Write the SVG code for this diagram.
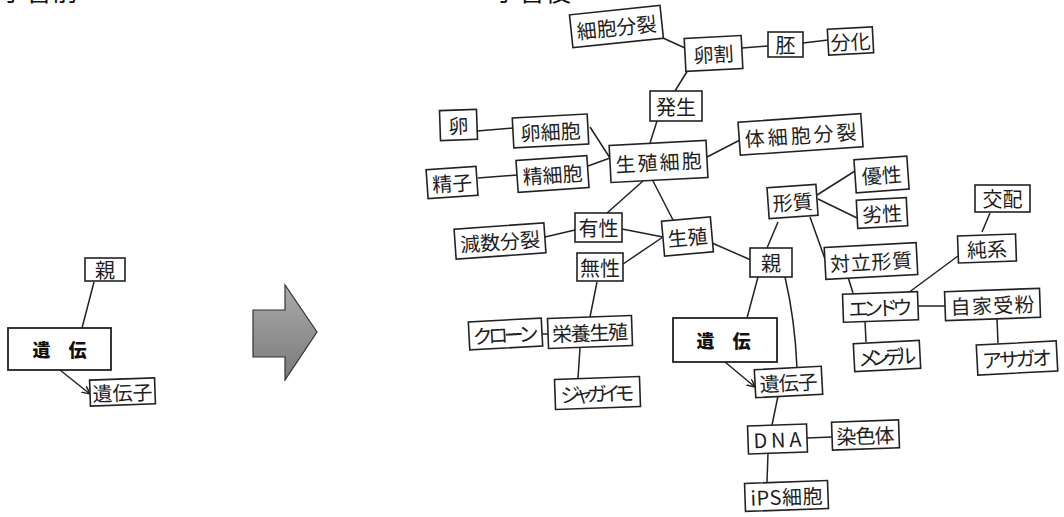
<svg xmlns="http://www.w3.org/2000/svg" width="1064" height="517" viewBox="0 0 1064 517">
<style>
.box{fill:#fff;stroke:#222;stroke-width:1.6}
.big{fill:#fff;stroke:#222;stroke-width:1.8}
.lbl{font-family:"Noto Sans CJK JP","Noto Sans",sans-serif;font-size:20px;fill:#1e1e1e;text-anchor:middle;dominant-baseline:central}
.bold{font-family:"Noto Sans CJK JP","Noto Sans",sans-serif;font-size:18px;font-weight:900;fill:#111;text-anchor:middle;dominant-baseline:central}
.ttl{font-family:"Noto Sans CJK JP",sans-serif;font-size:26px;fill:#111}
.ln{fill:none;stroke:#222;stroke-width:1.5}
</style>
<defs>
<marker id="ah" markerWidth="10" markerHeight="10" refX="8" refY="4" orient="auto" markerUnits="userSpaceOnUse">
<path d="M0,0 L8,4 L0,8" fill="none" stroke="#222" stroke-width="1.5"/>
</marker>
<linearGradient id="gr" x1="0" y1="0" x2="0" y2="1">
<stop offset="0" stop-color="#aaaaaa"/>
<stop offset="1" stop-color="#7a7a7a"/>
</linearGradient>
</defs>

<text class="ttl" x="0" y="0.5">学習前</text>
<text class="ttl" x="493" y="0.5">学習後</text>

<polygon id="bigarrow" points="253,310 285,310 285,285 317,332 285,380 285,357 253,357" fill="url(#gr)" stroke="#333" stroke-width="1.2"/>

<g id="connectors">
<line class="ln" x1="94" y1="282" x2="82" y2="328"/>
<line class="ln" x1="60" y1="370" x2="90" y2="394" marker-end="url(#ah)"/>

<line class="ln" x1="663" y1="38" x2="685" y2="48"/>
<line class="ln" x1="742" y1="48" x2="768" y2="46"/>
<line class="ln" x1="803" y1="43" x2="828" y2="40"/>
<line class="ln" x1="688" y1="70" x2="675" y2="91"/>
<line class="ln" x1="477" y1="131" x2="513" y2="128"/>
<line class="ln" x1="478" y1="178" x2="517" y2="175"/>
<line class="ln" x1="590" y1="127" x2="610" y2="158"/>
<line class="ln" x1="588" y1="166" x2="610" y2="158"/>
<line class="ln" x1="650" y1="143" x2="657" y2="121"/>
<line class="ln" x1="707" y1="157" x2="740" y2="140"/>
<line class="ln" x1="643" y1="181" x2="607" y2="213"/>
<line class="ln" x1="653" y1="181" x2="673" y2="220"/>
<line class="ln" x1="545" y1="237" x2="575" y2="230"/>
<line class="ln" x1="622" y1="229" x2="663" y2="237"/>
<line class="ln" x1="623" y1="264" x2="663" y2="237"/>
<line class="ln" x1="597" y1="282" x2="590" y2="317"/>
<line class="ln" x1="542" y1="334" x2="548" y2="334"/>
<line class="ln" x1="580" y1="348" x2="578" y2="378"/>
<line class="ln" x1="712" y1="243" x2="751" y2="260"/>
<line class="ln" x1="778" y1="222" x2="767" y2="248"/>
<line class="ln" x1="817" y1="195" x2="855" y2="171"/>
<line class="ln" x1="818" y1="199" x2="857" y2="218"/>
<line class="ln" x1="810" y1="217" x2="825" y2="259"/>
<line class="ln" x1="982" y1="232" x2="990" y2="213"/>
<line class="ln" x1="908" y1="293" x2="958" y2="256"/>
<line class="ln" x1="848" y1="277" x2="853" y2="293"/>
<line class="ln" x1="918" y1="306" x2="945" y2="306"/>
<line class="ln" x1="865" y1="321" x2="866" y2="342"/>
<line class="ln" x1="997" y1="319" x2="998" y2="343"/>
<line class="ln" x1="758" y1="277" x2="747" y2="318"/>
<path class="ln" d="M785,277 Q795,320 797,368"/>
<line class="ln" x1="725" y1="362" x2="755" y2="387" marker-end="url(#ah)"/>
<line class="ln" x1="778" y1="396" x2="772" y2="425"/>
<line class="ln" x1="807" y1="438" x2="832" y2="437"/>
<line class="ln" x1="768" y1="453" x2="767" y2="482"/>
</g>

<g id="l-oya"><rect class="box" x="85" y="258" width="40" height="23"/><text class="lbl" x="105" y="269.5" font-size="19">親</text></g>
<g id="l-iden"><rect class="big" x="8" y="328" width="103" height="42"/><text class="bold" x="59.5" y="349">遺　伝</text></g>
<g id="l-idenshi" transform="rotate(-2 122 392)"><rect class="box" x="90" y="379" width="65" height="26"/><text class="lbl" x="122.5" y="392" font-size="19">遺伝子</text></g>

<g id="n-saibobunretsu" transform="rotate(-6 617 27)"><rect class="box" x="571" y="10" width="91" height="33"/><text class="lbl" x="616.5" y="26.5" font-size="19">細胞分裂</text></g>
<g id="n-rankatsu" transform="rotate(-3 713 53)"><rect class="box" x="685" y="37" width="57" height="33"/><text class="lbl" x="713.5" y="53.5">卵割</text></g>
<g id="n-hai"><rect class="box" x="768" y="32" width="35" height="25"/><text class="lbl" x="785.5" y="44.5" font-size="19">胚</text></g>
<g id="n-bunka" transform="rotate(-3 850 41)"><rect class="box" x="828" y="28" width="45" height="26"/><text class="lbl" x="850.5" y="41" font-size="19">分化</text></g>
<g id="n-hassei"><rect class="box" x="650" y="91" width="52" height="30"/><text class="lbl" x="676" y="106">発生</text></g>
<g id="n-ran" transform="rotate(-2 458 125)"><rect class="box" x="440" y="110" width="37" height="30"/><text class="lbl" x="458.5" y="125">卵</text></g>
<g id="n-ransaibo" transform="rotate(-3 550 131)"><rect class="box" x="513" y="116" width="75" height="30"/><text class="lbl" x="550.5" y="131">卵細胞</text></g>
<g id="n-seishi" transform="rotate(-4 452 182)"><rect class="box" x="427" y="168" width="50" height="29"/><text class="lbl" x="452" y="182.5">精子</text></g>
<g id="n-seisaibo" transform="rotate(-4 552 174)"><rect class="box" x="517" y="158" width="71" height="32"/><text class="lbl" x="552.5" y="174">精細胞</text></g>
<g id="n-seishokusaibo" transform="rotate(-3 658 161)"><rect class="box" x="610" y="143" width="97" height="37"/><text class="lbl" x="658.5" y="161.5" font-size="21" textLength="86" lengthAdjust="spacing">生殖細胞</text></g>
<g id="n-taisaibo" transform="rotate(-4 800 134)"><rect class="box" x="739" y="118" width="123" height="33"/><text class="lbl" x="800.5" y="134.5" font-size="21" textLength="112" lengthAdjust="spacing">体細胞分裂</text></g>
<g id="n-gensu" transform="rotate(-4 500 241)"><rect class="box" x="455" y="226" width="90" height="30"/><text class="lbl" x="500" y="241" textLength="80" lengthAdjust="spacing">減数分裂</text></g>
<g id="n-yusei"><rect class="box" x="575" y="213" width="47" height="29"/><text class="lbl" x="598.5" y="227.5">有性</text></g>
<g id="n-seishoku" transform="rotate(-5 687 237)"><rect class="box" x="663" y="219" width="49" height="35"/><text class="lbl" x="687.5" y="236.5">生殖</text></g>
<g id="n-musei"><rect class="box" x="577" y="253" width="46" height="28"/><text class="lbl" x="600" y="267">無性</text></g>
<g id="n-eiyo" transform="rotate(-2 590 332)"><rect class="box" x="548" y="317" width="84" height="30"/><text class="lbl" x="590" y="332" textLength="76" lengthAdjust="spacing">栄養生殖</text></g>
<g id="n-clone" transform="rotate(-3 505 334)"><rect class="box" x="469" y="320" width="73" height="28"/><text class="lbl" x="505.5" y="334" textLength="66" lengthAdjust="spacing">クローン</text></g>
<g id="n-jagaimo" transform="rotate(-2 597 393)"><rect class="box" x="555" y="378" width="85" height="30"/><text class="lbl" x="597.5" y="393" textLength="74" lengthAdjust="spacing">ジャガイモ</text></g>
<g id="n-oya"><rect class="box" x="750" y="248" width="42" height="29"/><text class="lbl" x="771" y="262.5">親</text></g>
<g id="n-keishitsu" transform="rotate(-4 792 201)"><rect class="box" x="768" y="186" width="49" height="31"/><text class="lbl" x="792.5" y="201.5">形質</text></g>
<g id="n-yusei2" transform="rotate(-4 881 174)"><rect class="box" x="855" y="158" width="53" height="33"/><text class="lbl" x="881.5" y="174.5">優性</text></g>
<g id="n-ressei" transform="rotate(-3 882 213)"><rect class="box" x="857" y="199" width="50" height="28"/><text class="lbl" x="882" y="213">劣性</text></g>
<g id="n-tairitsu" transform="rotate(-3 871 261)"><rect class="box" x="825" y="245" width="92" height="32"/><text class="lbl" x="871" y="261" textLength="82" lengthAdjust="spacing">対立形質</text></g>
<g id="n-kohai"><rect class="box" x="975" y="185" width="55" height="27"/><text class="lbl" x="1002.5" y="198.5">交配</text></g>
<g id="n-junkei" transform="rotate(-2 987 249)"><rect class="box" x="958" y="235" width="58" height="27"/><text class="lbl" x="987" y="248.5">純系</text></g>
<g id="n-endo" transform="rotate(-2 880 307)"><rect class="box" x="843" y="293" width="75" height="28"/><text class="lbl" x="880.5" y="307" textLength="64" lengthAdjust="spacing">エンドウ</text></g>
<g id="n-jika" transform="rotate(-2 992 304)"><rect class="box" x="945" y="290" width="95" height="29"/><text class="lbl" x="992.5" y="304.5" textLength="84" lengthAdjust="spacing">自家受粉</text></g>
<g id="n-mendel" transform="rotate(-3 887 356)"><rect class="box" x="854" y="342" width="66" height="28"/><text class="lbl" x="887" y="356" textLength="58" lengthAdjust="spacing">メンデル</text></g>
<g id="n-asagao" transform="rotate(-3 1017 358)"><rect class="box" x="977" y="343" width="80" height="30"/><text class="lbl" x="1017" y="358" textLength="70" lengthAdjust="spacing">アサガオ</text></g>
<g id="n-iden"><rect class="big" x="673" y="318" width="104" height="44"/><text class="bold" x="723.5" y="340">遺　伝</text></g>
<g id="n-idenshi" transform="rotate(-3 788 382)"><rect class="box" x="755" y="368" width="67" height="28"/><text class="lbl" x="788.5" y="382" textLength="58" lengthAdjust="spacing">遺伝子</text></g>
<g id="n-dna" transform="rotate(-2 777 439)"><rect class="box" x="748" y="425" width="59" height="28"/><text class="lbl" x="777.5" y="439" textLength="48" lengthAdjust="spacing">DNA</text></g>
<g id="n-senshokutai" transform="rotate(-2 865 435)"><rect class="box" x="832" y="421" width="67" height="28"/><text class="lbl" x="865.5" y="435" textLength="58" lengthAdjust="spacing">染色体</text></g>
<g id="n-ips" transform="rotate(-2 786 496)"><rect class="box" x="745" y="482" width="83" height="28"/><text class="lbl" x="786.5" y="496" textLength="72" lengthAdjust="spacing">iPS細胞</text></g>
</svg>
